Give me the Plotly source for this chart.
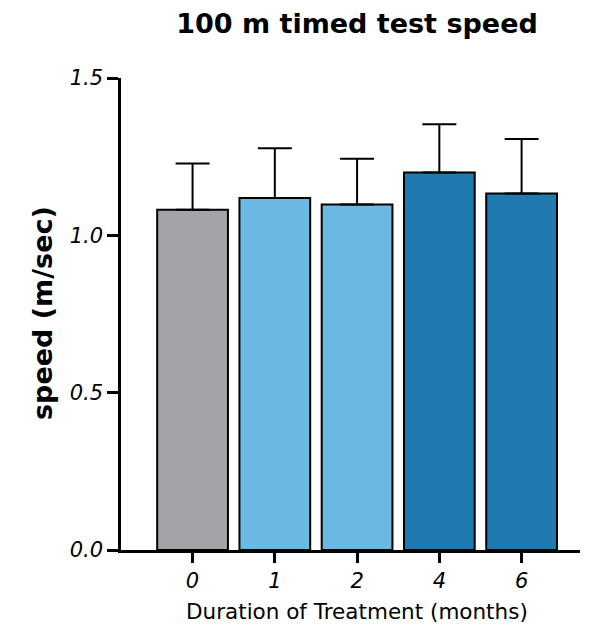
import plotly.graph_objects as go

categories = ["0", "1", "2", "4", "6"]
means = [1.081, 1.119, 1.098, 1.200, 1.133]
errors = [0.147, 0.158, 0.145, 0.153, 0.173]
colors = ["#A4A3A8", "#6BB8E2", "#6BB8E2", "#1F7BAF", "#1F7BAF"]
y_ticks = [0.0, 0.5, 1.0, 1.5]
y_ticklabels = ["0.0", "0.5", "1.0", "1.5"]

OFF = 8  # page body margin
W, H = 597 - OFF, 635 - OFF
L, R, T, B = 121 - OFF, 17, 78 - OFF, 85
pw, ph = W - L - R, H - T - B

FONT = "DejaVu Sans, Liberation Sans, Arial, sans-serif"

xpos = list(range(len(categories)))

fig = go.Figure()
fig.add_trace(go.Bar(
    x=xpos, y=means, width=0.86,
    marker=dict(color=colors, line=dict(color="black", width=2)),
    error_y=dict(type="data", symmetric=False, array=errors,
                 arrayminus=[0] * len(errors),
                 color="black", thickness=2, width=17),
    showlegend=False,
))

fig.update_layout(
    width=W, height=H,
    margin=dict(l=L, r=R, t=T, b=B),
    paper_bgcolor="white", plot_bgcolor="white",
    font=dict(family=FONT, color="black"),
    title=dict(text="<b>100 m timed test speed</b>", x=(357 - OFF) / W, xref="container",
               xanchor="center", y=1 - (24 - OFF) / H, yref="container", yanchor="middle",
               font=dict(size=27, color="black", family=FONT)),
    xaxis=dict(range=[-0.87, 4.71], tickvals=xpos, ticktext=categories,
               showline=True, linecolor="black", linewidth=2.5,
               ticks="outside", ticklen=10, tickwidth=2.5, tickcolor="black",
               tickfont=dict(size=21, style="italic", family=FONT),
               showgrid=False, zeroline=False, fixedrange=True),
    yaxis=dict(range=[0, 1.5], tickvals=y_ticks, ticktext=y_ticklabels,
               showline=True, linecolor="black", linewidth=2.5,
               ticks="outside", ticklen=11, tickwidth=2.5, tickcolor="black",
               tickfont=dict(size=21, style="italic", family=FONT),
               showgrid=False, zeroline=False, fixedrange=True),
    annotations=[
        dict(text="<b>speed (m/sec)</b>", textangle=-90, xref="paper", yref="paper",
             x=(42 - 121) / pw, y=(550 - 313) / ph, xanchor="center", yanchor="middle",
             showarrow=False, font=dict(size=27, color="black", family=FONT)),
        dict(text="Duration of Treatment (months)", xref="paper", yref="paper",
             x=(357 - 121) / pw, y=-(611 - 550) / ph, xanchor="center", yanchor="middle",
             showarrow=False, font=dict(size=21.5, color="black", family=FONT)),
    ],
)

fig.write_html("out.html")
